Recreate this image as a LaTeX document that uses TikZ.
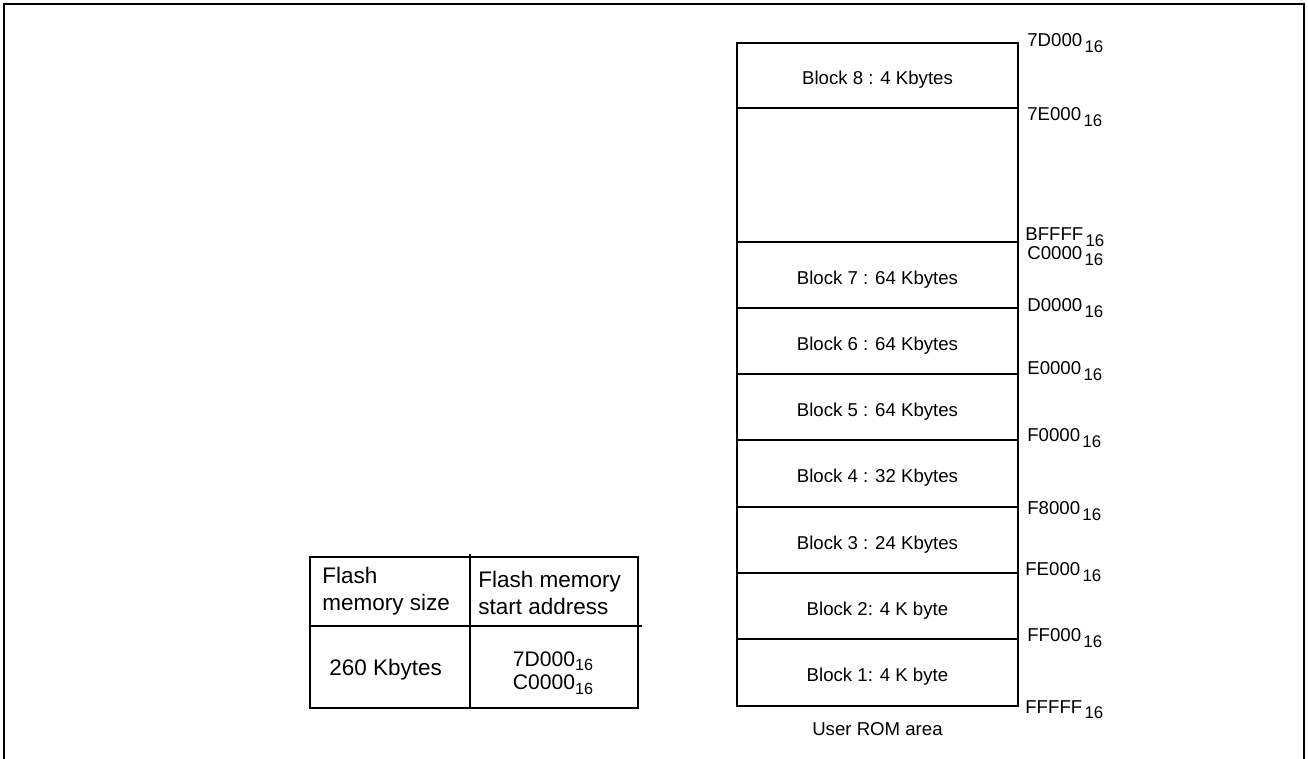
\documentclass[tikz,border=0pt]{standalone}
\usepackage{fontspec}
\setmainfont{Liberation Sans}
\usetikzlibrary{positioning}
\newcommand{\hexsub}[1]{#1\kern1.3pt\raisebox{-3.4pt}{\fontsize{9.6}{9.6}\selectfont 16}}
\newcommand{\hexsubtab}[1]{#1\raisebox{-2.3pt}{\fontsize{9.2}{9.2}\selectfont 16}}

\begin{document}
\begin{tikzpicture}[
  x=0.02cm, y=-0.02cm,
  blk/.style={draw, line width=0.9pt, minimum width=5.62cm, minimum height=#1,
              inner sep=0pt, outer sep=0pt, anchor=north west,
              text height=10.5pt, text depth=0pt,
              font=\fontsize{10.6}{12}\selectfont},
  addr/.style={anchor=base west, inner sep=0pt, font=\fontsize{10.6}{12}\selectfont},
  cell/.style={inner sep=0pt, font=\fontsize{12.8}{15}\selectfont},
  tbl/.style={draw, line width=0.9pt},
  frame/.style={draw, line width=1.3pt}
]
\useasboundingbox (0,0) rectangle (1308,759);
\draw[frame] (4,759) -- (4,4) -- (1304,4) -- (1304,759);

% user ROM area
\node[blk=1.30cm] (b8) at (737,43) {Block 8 : 4 Kbytes};
\node[blk=2.68cm, below=0pt of b8] (rsv) {};
\node[blk=1.32cm, below=0pt of rsv] (b7) {Block 7 : 64 Kbytes};
\node[blk=1.32cm, below=0pt of b7] (b6) {Block 6 : 64 Kbytes};
\node[blk=1.32cm, below=0pt of b6] (b5) {Block 5 : 64 Kbytes};
\node[blk=1.34cm, below=0pt of b5] (b4) {Block 4 : 32 Kbytes};
\node[blk=1.32cm, below=0pt of b4] (b3) {Block 3 : 24 Kbytes};
\node[blk=1.32cm, below=0pt of b3] (b2) {Block 2: 4 K byte};
\node[blk=1.34cm, below=0pt of b2] (b1) {Block 1: 4 K byte};
\node[inner sep=0pt, below=0.32cm of b1, font=\fontsize{10.6}{12}\selectfont] (romcap) {User ROM area};

% addresses
\node[addr] (a7D) at (1027,47)  {\hexsub{7D000}};
\node[addr] (a7E) at (1027,121) {\hexsub{7E000}};
\node[addr] (aBF) at (1025,241) {\hexsub{BFFFF}};
\node[addr] (aC0) at (1027,260) {\hexsub{C0000}};
\node[addr] (aD0) at (1027,312) {\hexsub{D0000}};
\node[addr] (aE0) at (1027,375) {\hexsub{E0000}};
\node[addr] (aF0) at (1027,442) {\hexsub{F0000}};
\node[addr] (aF8) at (1027,515) {\hexsub{F8000}};
\node[addr] (aFE) at (1025,576) {\hexsub{FE000}};
\node[addr] (aFF) at (1027,642) {\hexsub{FF000}};
\node[addr] (aend) at (1025,713) {\hexsub{FFFFF}};

% size table
\draw[tbl] (310,557) rectangle (638,708);
\draw[tbl] (470,554) -- (470,708);
\draw[tbl] (310,626) -- (642,626);
\node[cell, align=left, anchor=north west] (hsize) at (322,567) {Flash\\memory size};
\node[cell, align=left, anchor=north west] (haddr) at (478,571) {Flash memory\\start address};
\node[cell, anchor=base west] (vsize) at (329,675) {260 Kbytes};
\node[cell, align=center, anchor=north, font=\fontsize{12}{13.6}\selectfont] (vaddr) at (553,651)
  {\hexsubtab{7D000}\\\hexsubtab{C0000}};
\end{tikzpicture}
\end{document}
